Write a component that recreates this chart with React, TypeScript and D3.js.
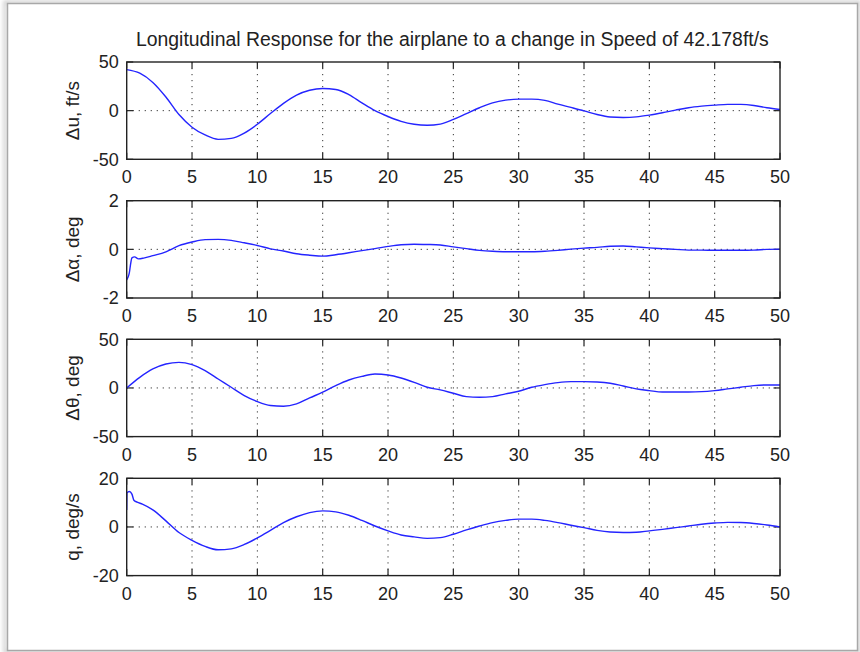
import React from "react";
import * as d3 from "d3";

const TITLE = "Longitudinal Response for the airplane to a change in Speed of 42.178ft/s";

const T_SEC = [0,1,2,3,4,5,6,7,8,9,10,11,12,13,14,15,16,17,18,19,20,21,22,23,24,25,26,27,28,29,30,31,32,33,34,35,36,37,38,39,40,41,42,43,44,45,46,47,48,49,50];

const DU = [42.2,38.5,29,14,-4,-17,-25,-29.5,-28.5,-23,-14,-3,7.5,16,21,22.8,21.8,16.5,8,0,-6,-11,-14,-15,-13.8,-9,-3,3,8,10.8,11.8,11.8,10.5,6.7,3.3,-0.2,-4,-6.5,-7,-6.4,-4.6,-2.2,0.5,3,4.6,5.7,6.5,6.4,5.3,3,1.2];

const ALPHA_T = [0,0.1,0.2,0.3,0.4,0.6,0.9,1.3,2,3,4,5,6,7,8,9,10,11,12,13,14,15,16,17,18,19,20,21,22,23,24,25,26,27,28,29,30,31,32,33,34,35,36,37,38,39,40,41,42,43,44,45,46,47,48,49,50];
const ALPHA = [-1.25,-1.15,-0.97,-0.6,-0.35,-0.31,-0.39,-0.36,-0.26,-0.1,0.15,0.3,0.4,0.41,0.37,0.27,0.16,0.02,-0.07,-0.18,-0.24,-0.28,-0.22,-0.14,-0.05,0.03,0.12,0.19,0.21,0.2,0.18,0.1,0.03,-0.04,-0.08,-0.1,-0.1,-0.1,-0.08,-0.04,0.01,0.05,0.08,0.13,0.14,0.1,0.06,0.03,0,-0.03,-0.03,-0.04,-0.04,-0.04,-0.03,0,0.01];

const THETA = [0,10.9,19.5,24.6,26.3,23.9,17.7,9.2,0.7,-7.8,-14,-18,-18.8,-16.4,-10.2,-4.4,2.4,8.2,11.9,14.3,13.3,10.2,5.8,0.7,-2,-5.5,-8.9,-9.6,-8.9,-6.1,-3.4,0.7,3.4,5.5,6.5,6.5,6.1,4.8,2,-1,-2.7,-4.1,-4.1,-4.1,-3.8,-2.7,-1,0.7,2.4,3.1,3.1];

const Q_T = [0,0.02,0.2,0.4,0.55,0.8,1.2,2,3,4,5,6,7,8,9,10,11,12,13,14,15,16,17,18,19,20,21,22,23,24,25,26,27,28,29,30,31,32,33,34,35,36,37,38,39,40,41,42,43,44,45,46,47,48,49,50];
const Q = [7,14,14.6,13.5,11,10.2,9.4,7,2.5,-2.3,-5.5,-8,-9.4,-9,-7.2,-4.5,-1.4,1.8,4.2,5.9,6.6,6.2,4.8,2.7,0.4,-1.6,-3.3,-4.1,-4.7,-4.4,-3,-1.2,0.4,1.8,2.7,3.2,3.2,2.7,1.8,0.7,-0.3,-1.4,-2.1,-2.3,-2.2,-1.6,-1,-0.3,0.4,1.1,1.6,1.9,1.8,1.4,0.8,0];

const X_TICKS = [0,5,10,15,20,25,30,35,40,45,50];
const Y_LABELS = ["\u0394u, ft/s", "\u0394\u03b1, deg", "\u0394\u03b8, deg", "q, deg/s"];
const Y_DOMAINS: [number, number][] = [[-50,50],[-2,2],[-50,50],[-20,20]];
const Y_TICKS = [[-50,0,50],[-2,0,2],[-50,0,50],[-20,0,20]];

const W = 860, H = 652;
const LEFT = 126.7, RIGHT = 780;
const TOPS = [62, 200.7, 339.3, 478.3];
const PH = 97.3;
const FONT = "'Liberation Sans', Arial, Helvetica, sans-serif";
const TICK = 6.5;

function Panel({ idx, t, v }: { idx: number; t: number[]; v: number[] }) {
  const top = TOPS[idx];
  const x = d3.scaleLinear().domain([0, 50]).range([LEFT, RIGHT]);
  const y = d3.scaleLinear().domain(Y_DOMAINS[idx]).range([top + PH, top]);
  const pts: [number, number][] = t.map((tt, i) => [tt, v[i]]);
  const line = d3.line<[number, number]>().x(d => x(d[0])).y(d => y(d[1])).curve(d3.curveMonotoneX);
  const yt = Y_TICKS[idx];
  return (
    <g>
      <rect x={LEFT} y={top} width={RIGHT - LEFT} height={PH} fill="#fff" />
      {X_TICKS.slice(1, -1).map(tk => (
        <line key={"gx" + tk} x1={x(tk)} x2={x(tk)} y1={top} y2={top + PH} stroke="#333" strokeWidth={1} strokeDasharray="1.2,4.8" />
      ))}
      {yt.slice(1, -1).map(tk => (
        <line key={"gy" + tk} x1={LEFT} x2={RIGHT} y1={y(tk)} y2={y(tk)} stroke="#333" strokeWidth={1} strokeDasharray="1.2,4.8" />
      ))}
      {X_TICKS.map(tk => (
        <g key={"tx" + tk}>
          <line x1={x(tk)} x2={x(tk)} y1={top} y2={top + TICK} stroke="#222" strokeWidth={1.2} />
          <line x1={x(tk)} x2={x(tk)} y1={top + PH} y2={top + PH - TICK} stroke="#222" strokeWidth={1.2} />
          <text x={x(tk)} y={top + PH + 24} textAnchor="middle" fontFamily={FONT} fontSize={18} fill="#222">{tk}</text>
        </g>
      ))}
      {yt.map(tk => (
        <g key={"ty" + tk}>
          <line x1={LEFT} x2={LEFT + TICK} y1={y(tk)} y2={y(tk)} stroke="#222" strokeWidth={1.2} />
          <line x1={RIGHT} x2={RIGHT - TICK} y1={y(tk)} y2={y(tk)} stroke="#222" strokeWidth={1.2} />
          <text x={LEFT - 8} y={y(tk)} dy="0.36em" textAnchor="end" fontFamily={FONT} fontSize={18} fill="#222">{tk}</text>
        </g>
      ))}
      <path d={line(pts) || ""} fill="none" stroke="#2424ff" strokeWidth={1.4} />
      <rect x={LEFT} y={top} width={RIGHT - LEFT} height={PH} fill="none" stroke="#222" strokeWidth={1.4} />
      <text transform={`translate(${72},${top + PH / 2}) rotate(-90)`} textAnchor="middle" dy="0.36em" fontFamily={FONT} fontSize={19} fill="#222">{Y_LABELS[idx]}</text>
    </g>
  );
}

export default function App() {
  return (
    <svg width={W} height={H} style={{ position: "absolute", left: 0, top: 0, display: "block", background: "#fff" }}>
      <defs>
        <filter id="sh" x="-5%" y="-5%" width="110%" height="110%">
          <feGaussianBlur stdDeviation="2" />
        </filter>
      </defs>
      <rect x={0} y={0} width={W} height={H} fill="#fff" />
      <rect x={5} y={2} width={854} height={650} fill="none" stroke="#c8c8c8" strokeWidth={3} filter="url(#sh)" />
      <rect x={7.5} y={3.5} width={850} height={647} fill="#fff" stroke="#a8a8a8" strokeWidth={1.5} />
      <text x={(LEFT + RIGHT) / 2 - 1} y={45.5} textAnchor="middle" fontFamily={FONT} fontSize={19.4} fill="#222">{TITLE}</text>
      <Panel idx={0} t={T_SEC} v={DU} />
      <Panel idx={1} t={ALPHA_T} v={ALPHA} />
      <Panel idx={2} t={T_SEC} v={THETA} />
      <Panel idx={3} t={Q_T} v={Q} />
    </svg>
  );
}
